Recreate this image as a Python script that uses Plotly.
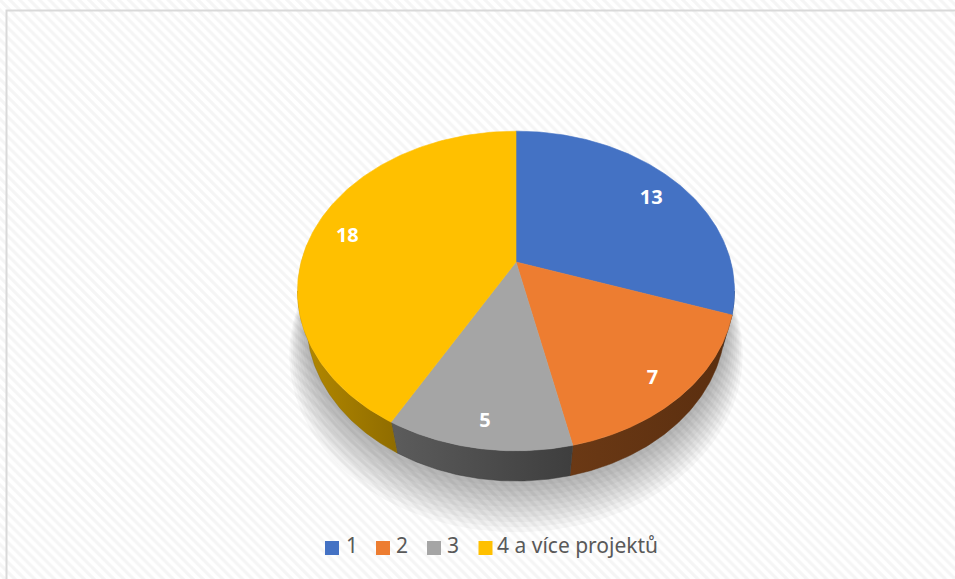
import numpy as np
import plotly.graph_objects as go

categories = ["1", "2", "3", "4 a více projektů"]
values = [13, 7, 5, 18]
top_colors = ["#4472C4", "#ED7D31", "#A5A5A5", "#FFC000"]
side_colors = [("#27436f", "#203a61"), ("#6b3915", "#5a2e0f"),
               ("#5c5c5c", "#3e3e3e"), ("#b58a00", "#8f6c00")]

W, H_PX = 955, 579
CX, CY = 516, 262
K, D = 823.0, 3.83
ALPHA = np.radians(46)
THICK = 0.229


def proj(theta, r=1.0, y=0.0):
    u = r * np.sin(theta)
    v = r * np.cos(theta)
    yc = v * np.sin(ALPHA) + y * np.cos(ALPHA)
    zc = D + v * np.cos(ALPHA) - y * np.sin(ALPHA)
    return CX + K * u / zc, CY - K * yc / zc


fig = go.Figure()

# background hatch
fig.add_trace(go.Scatter(x=[0, W, W, 0, 0], y=[0, 0, H_PX, H_PX, 0], mode="lines",
                         fill="toself", fillcolor="white", line=dict(width=0),
                         fillpattern=dict(shape="\\", fgcolor="#ebebeb", bgcolor="white",
                                          size=7, solidity=0.45),
                         hoverinfo="skip", showlegend=False))

total = sum(values)
bounds = np.concatenate([[0], np.cumsum(values)]) / total * 2 * np.pi
c = np.cos(ALPHA) / D
sil = np.arccos(-c)  # right silhouette angle
vis_lo, vis_hi = sil, 2 * np.pi - sil

# soft shadow
for i in range(10, 0, -1):
    th = np.linspace(vis_lo - 0.3, vis_hi + 0.3, 200)
    sx, sy = proj(th, r=1.0 + 0.012 * i, y=-THICK - 0.02 * i)
    tx, ty = proj(th[::-1], r=1.0, y=0.0)
    fig.add_trace(go.Scatter(x=np.concatenate([sx, tx]), y=np.concatenate([sy, ty]),
                             mode="lines", fill="toself", fillcolor="rgba(0,0,0,0.03)",
                             line=dict(width=0), hoverinfo="skip", showlegend=False))

# side faces
for i in range(len(values)):
    a0, a1 = max(bounds[i], vis_lo), min(bounds[i + 1], vis_hi)
    if a1 <= a0:
        continue
    th = np.linspace(a0, a1, 80)
    tx, ty = proj(th)
    bx, by = proj(th[::-1], y=-THICK)
    fig.add_trace(go.Scatter(x=np.concatenate([tx, bx, tx[:1]]), y=np.concatenate([ty, by, ty[:1]]),
                             mode="lines", fill="toself", fillcolor=side_colors[i][1],
                             fillgradient=dict(type="horizontal",
                                               colorscale=[[0, side_colors[i][0]], [1, side_colors[i][1]]]),
                             line=dict(width=0.5, color=side_colors[i][1]),
                             hoverinfo="skip", showlegend=False))

# top faces
for i in range(len(values)):
    th = np.linspace(bounds[i], bounds[i + 1], 150)
    ax, ay = proj(th)
    x = np.concatenate([[CX], ax, [CX]])
    y = np.concatenate([[CY], ay, [CY]])
    fig.add_trace(go.Scatter(x=x, y=y, mode="lines", fill="toself", fillcolor=top_colors[i],
                             line=dict(width=0.6, color=top_colors[i]),
                             hoverinfo="skip", showlegend=False))

# labels
mids = (bounds[:-1] + bounds[1:]) / 2
lx, ly = proj(mids, r=0.85, y=-THICK * 0.2)
fig.add_trace(go.Scatter(x=lx, y=ly, mode="text", text=[str(v) for v in values],
                         textfont=dict(family="Open Sans", size=20, color="white", weight="bold"),
                         hoverinfo="skip", showlegend=False))

# legend (markers + text, laid out in a row)
LEG_Y = 548
leg_sym_x = [332, 383, 434, 485.5]
leg_txt_x = [346, 396, 447, 497]
fig.add_trace(go.Scatter(x=leg_sym_x, y=[LEG_Y] * 4, mode="markers",
                         marker=dict(symbol="square", size=14, color=top_colors, line=dict(width=0)),
                         hoverinfo="skip", showlegend=False))
fig.add_trace(go.Scatter(x=leg_txt_x, y=[LEG_Y] * 4, mode="text", text=categories,
                         textposition="middle right",
                         textfont=dict(family="Noto Sans", size=21, color="#595959"),
                         hoverinfo="skip", showlegend=False))

fig.add_shape(type="rect", x0=6.5, y0=10.5, x1=W + 20, y1=H_PX + 20,
              line=dict(color="#d9d9d9", width=2))

fig.update_layout(
    width=W, height=H_PX, margin=dict(l=0, r=0, t=0, b=0),
    paper_bgcolor="white", plot_bgcolor="white",
    xaxis=dict(range=[0, W], visible=False, fixedrange=True),
    yaxis=dict(range=[H_PX, 0], visible=False, fixedrange=True),
    showlegend=False,
)

fig.write_html("out.html", config={"displayModeBar": False},
               post_script="document.body.style.margin='0';")
